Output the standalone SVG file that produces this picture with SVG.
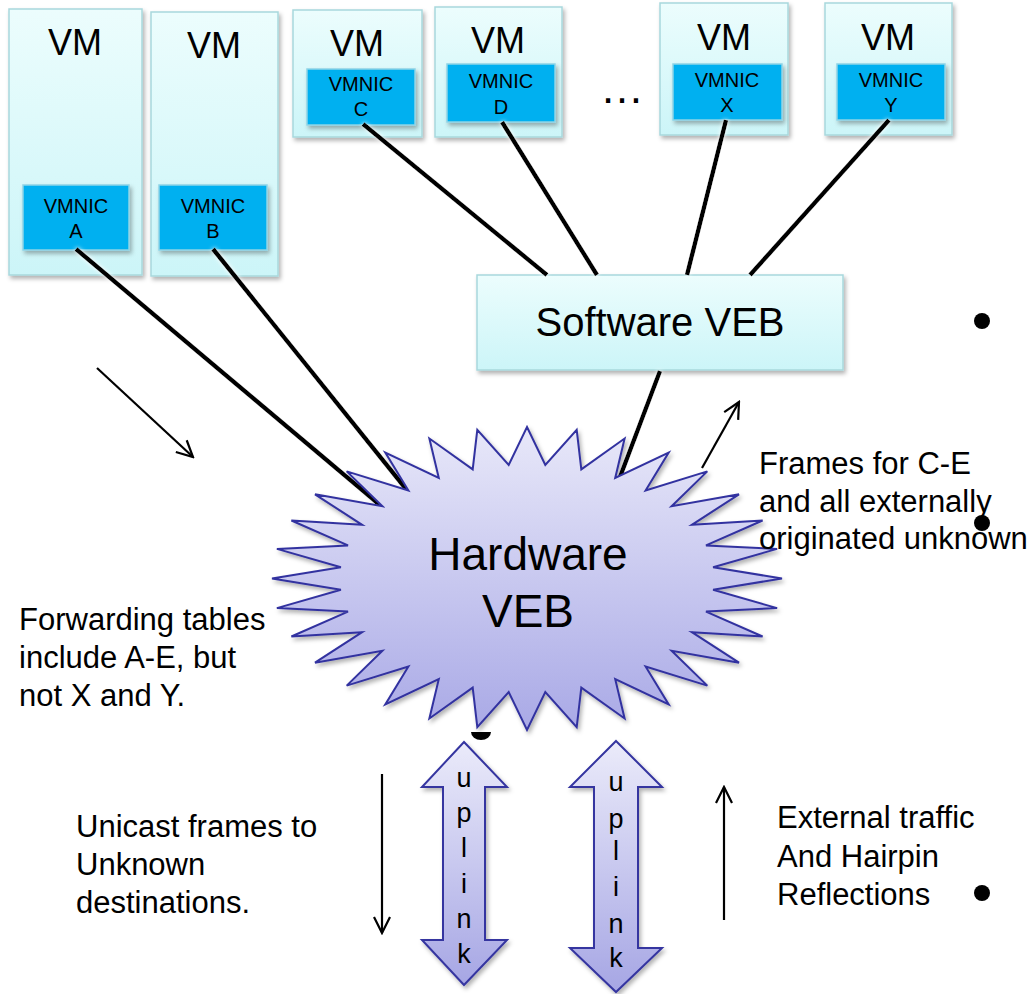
<svg xmlns="http://www.w3.org/2000/svg" width="1035" height="994" viewBox="0 0 1035 994">
<defs>
<linearGradient id="gVM" x1="0" y1="0" x2="0" y2="1"><stop offset="0" stop-color="#ecfdfd"/><stop offset="1" stop-color="#ccf5f8"/></linearGradient>
<linearGradient id="gHW" x1="0" y1="0" x2="0" y2="1"><stop offset="0" stop-color="#e8e8f9"/><stop offset="1" stop-color="#a9a9e6"/></linearGradient>
<linearGradient id="gUp" x1="0" y1="0" x2="0" y2="1"><stop offset="0" stop-color="#ebebfa"/><stop offset="1" stop-color="#a6a6e4"/></linearGradient>
<filter id="sh" x="-10%" y="-10%" width="130%" height="130%"><feDropShadow dx="2" dy="3" stdDeviation="2" flood-color="#000" flood-opacity="0.3"/></filter>
<filter id="glow" x="-10%" y="-10%" width="120%" height="120%"><feDropShadow dx="0" dy="0" stdDeviation="2" flood-color="#fff" flood-opacity="1"/></filter>
<marker id="ah" viewBox="0 0 20 20" refX="18" refY="10" markerWidth="20" markerHeight="20" markerUnits="userSpaceOnUse" orient="auto"><path d="M2,2 L18,10 L2,18" fill="none" stroke="#000" stroke-width="2.2"/></marker>
</defs>
<style>
text{font-family:"Liberation Sans",Arial,sans-serif;fill:#000}
.vm{fill:url(#gVM);stroke:#a8d8dd;stroke-width:1.5;filter:url(#sh)}
.nic{fill:#00b0f0;stroke:#8fd4e6;stroke-width:1.5;filter:url(#sh)}
.vmt{font-size:36px;text-anchor:middle}
.nt{font-size:20px;text-anchor:middle}
.lbl{font-size:31px}
.conn{stroke:#000;stroke-width:4.5;fill:none;stroke-linecap:butt}
.thin{stroke:#000;stroke-width:2.2;fill:none;marker-end:url(#ah)}
.up{fill:url(#gUp);stroke:#3535a0;stroke-width:2;filter:url(#sh)}
.ut{font-size:27px;text-anchor:middle}
</style>

<g id="vmA"><rect class="vm" x="9" y="9" width="133" height="266"/><text class="vmt" x="75" y="55">VM</text>
<rect class="nic" x="23" y="185" width="106" height="65"/><text class="nt" x="76" y="213">VMNIC</text><text class="nt" x="76" y="238">A</text></g>
<g id="vmB"><rect class="vm" x="151" y="12" width="127" height="264"/><text class="vmt" x="214" y="58">VM</text>
<rect class="nic" x="159" y="185" width="108" height="65"/><text class="nt" x="213" y="213">VMNIC</text><text class="nt" x="213" y="238">B</text></g>
<g id="vmC"><rect class="vm" x="293" y="10" width="129" height="127"/><text class="vmt" x="357" y="56">VM</text>
<rect class="nic" x="307" y="69" width="108" height="56"/><text class="nt" x="361" y="91">VMNIC</text><text class="nt" x="361" y="116">C</text></g>
<g id="vmD"><rect class="vm" x="435" y="7" width="127" height="130"/><text class="vmt" x="498" y="53">VM</text>
<rect class="nic" x="447" y="64" width="108" height="58"/><text class="nt" x="501" y="88">VMNIC</text><text class="nt" x="501" y="114">D</text></g>
<g id="vmX"><rect class="vm" x="660" y="3" width="128" height="132"/><text class="vmt" x="724" y="50">VM</text>
<rect class="nic" x="673" y="64" width="109" height="56"/><text class="nt" x="727" y="87">VMNIC</text><text class="nt" x="727" y="112">X</text></g>
<g id="vmY"><rect class="vm" x="825" y="3" width="127" height="132"/><text class="vmt" x="888" y="50">VM</text>
<rect class="nic" x="837" y="64" width="108" height="56"/><text class="nt" x="891" y="87">VMNIC</text><text class="nt" x="891" y="112">Y</text></g>
<g id="ellipsis"><text x="600" y="103" font-size="44">…</text></g>

<g id="softwareVEB"><rect class="vm" x="477" y="275" width="366" height="95"/><text x="660" y="336" font-size="40" text-anchor="middle">Software VEB</text></g>

<g id="connectors" filter="url(#glow)">
<line class="conn" x1="76" y1="249" x2="380" y2="505"/>
<line class="conn" x1="213" y1="249" x2="406" y2="489"/>
<line class="conn" x1="363" y1="124" x2="547" y2="275"/>
<line class="conn" x1="502" y1="122" x2="597" y2="275"/>
<line class="conn" x1="726" y1="120" x2="687" y2="275"/>
<line class="conn" x1="889" y1="120" x2="750" y2="275"/>
<line class="conn" x1="660" y1="371" x2="620" y2="477"/>
</g>

<g id="hardwareVEB">
<path filter="url(#sh)" fill="url(#gHW)" stroke="#3333a0" stroke-width="2" stroke-linejoin="miter" d="M527,427 L545.3,465 L576.7,429.9 L581.3,469.4 L624.6,438.5 L615.2,478 L668.7,452.5 L645.6,490.4 L707.3,471.4 L671.6,506.2 L739,494.3 L691.9,524.8 L762.6,520.5 L706,545.4 L777.1,548.9 L713.1,567.3 L782,578.5 L713.1,589.7 L777.1,608.1 L706,611.6 L762.6,636.5 L691.9,632.2 L739,662.7 L671.6,650.8 L707.3,685.6 L645.6,666.6 L668.7,704.5 L615.2,679 L624.6,718.5 L581.3,687.6 L576.7,727.1 L545.3,692 L527,730 L508.7,692 L477.3,727.1 L472.7,687.6 L429.4,718.5 L438.8,679 L385.3,704.5 L408.4,666.6 L346.7,685.6 L382.4,650.8 L315,662.7 L362.1,632.2 L291.4,636.5 L348,611.6 L276.9,608.1 L340.9,589.7 L272,578.5 L340.9,567.3 L276.9,548.9 L348,545.4 L291.4,520.5 L362.1,524.8 L315,494.3 L382.4,506.2 L346.7,471.4 L408.4,490.4 L385.3,452.5 L438.8,478 L429.4,438.5 L472.7,469.4 L477.3,429.9 L508.7,465 Z"/>
<text x="528" y="570" font-size="46" text-anchor="middle">Hardware</text>
<text x="528" y="627" font-size="46" text-anchor="middle">VEB</text>
</g>

<g id="blob"><path d="M471,732 L491,732 A10,8 0 0 1 471,732 Z" fill="#000"/></g>

<g id="uplink1"><path class="up" d="M464,742 L507,787 L485,787 L485,940 L507,940 L464,985 L422,940 L443,940 L443,787 L422,787 Z"/>
<text class="ut" x="464" y="787">u</text><text class="ut" x="464" y="822">p</text><text class="ut" x="464" y="857">l</text><text class="ut" x="464" y="893">i</text><text class="ut" x="464" y="928">n</text><text class="ut" x="464" y="963">k</text></g>
<g id="uplink2"><path class="up" d="M616,741 L662,787 L638,787 L638,948 L662,948 L616,992 L570,948 L594,948 L594,787 L570,787 Z"/>
<text class="ut" x="616" y="791">u</text><text class="ut" x="616" y="828">p</text><text class="ut" x="616" y="860">l</text><text class="ut" x="616" y="896">i</text><text class="ut" x="616" y="933">n</text><text class="ut" x="616" y="967">k</text></g>

<g id="flowArrows">
<line class="thin" x1="97" y1="368" x2="193" y2="457"/>
<line class="thin" x1="702" y1="468" x2="739" y2="402"/>
<line class="thin" x1="382" y1="774" x2="382" y2="933"/>
<line class="thin" x1="724" y1="920" x2="724" y2="787"/>
</g>

<g id="labels">
<text class="lbl" x="19" y="630">Forwarding tables</text>
<text class="lbl" x="19" y="668">include A-E, but</text>
<text class="lbl" x="19" y="706">not X and Y.</text>
<text class="lbl" x="759" y="474">Frames for C-E</text>
<text class="lbl" x="759" y="512">and all externally</text>
<text class="lbl" x="759" y="549">originated unknown</text>
<text class="lbl" x="76" y="837">Unicast frames to</text>
<text class="lbl" x="76" y="875">Unknown</text>
<text class="lbl" x="76" y="913">destinations.</text>
<text class="lbl" x="777" y="828">External traffic</text>
<text class="lbl" x="777" y="867">And Hairpin</text>
<text class="lbl" x="777" y="905">Reflections</text>
</g>

<g id="bullets">
<circle cx="982" cy="321" r="8"/>
<circle cx="982" cy="523" r="8"/>
<circle cx="982" cy="893" r="8"/>
</g>
</svg>
